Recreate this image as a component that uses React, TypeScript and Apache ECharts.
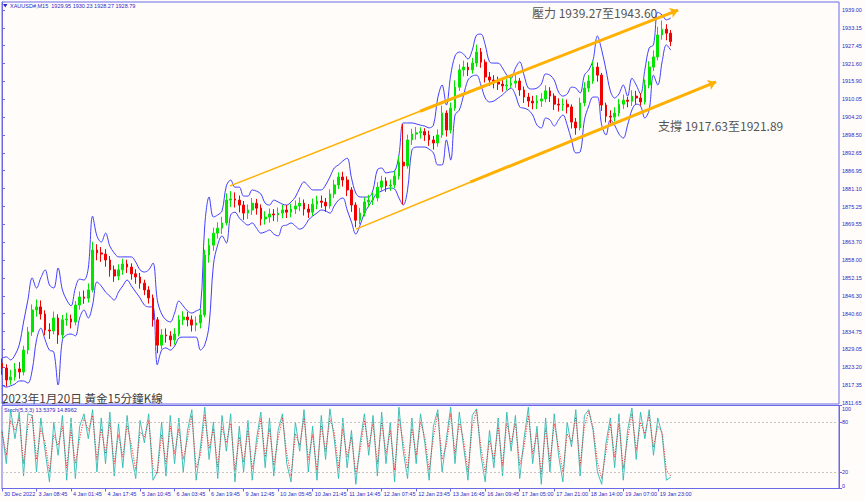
import React, { useEffect, useRef } from "react";
import * as echarts from "echarts";

// ---------- data ----------
const TIME_LABELS = [
  "30 Dec 2022", "3 Jan 08:45", "4 Jan 01:45", "4 Jan 17:45", "5 Jan 10:45",
  "6 Jan 03:45", "6 Jan 19:45", "9 Jan 12:45", "10 Jan 05:45", "10 Jan 21:45",
  "11 Jan 14:45", "12 Jan 07:45", "12 Jan 23:45", "13 Jan 16:45", "16 Jan 09:45",
  "17 Jan 05:00", "17 Jan 21:00", "18 Jan 14:00", "19 Jan 07:00", "19 Jan 23:00",
];
const SLOTS_PER_LABEL = 8;
const TOTAL_SLOTS = 195;

// [open, close, low, high]
const CANDLES: number[][] = [
  [1824.5, 1823.0, 1820.8, 1826.0], [1823.0, 1819.1, 1817.0, 1824.2], [1819.1, 1820.1, 1817.6, 1822.4], [1820.1, 1822.7, 1818.9, 1824.6],
  [1822.7, 1821.7, 1819.5, 1824.9], [1821.7, 1828.8, 1820.6, 1830.2], [1828.8, 1834.7, 1827.5, 1836.3], [1834.7, 1841.8, 1833.4, 1843.6],
  [1841.8, 1842.8, 1839.6, 1845.2], [1842.8, 1840.5, 1838.7, 1844.9], [1840.5, 1835.3, 1833.6, 1841.7], [1835.3, 1835.0, 1832.4, 1837.5],
  [1835.0, 1839.2, 1833.9, 1841.3], [1839.2, 1833.7, 1830.8, 1840.4], [1833.7, 1838.6, 1832.5, 1840.2], [1838.6, 1838.9, 1836.7, 1840.9],
  [1838.9, 1837.9, 1835.8, 1840.3], [1837.9, 1843.4, 1836.8, 1844.7], [1843.4, 1846.0, 1841.9, 1847.8], [1846.0, 1845.6, 1843.8, 1848.1],
  [1845.6, 1848.3, 1844.2, 1850.4], [1848.3, 1861.2, 1847.5, 1863.9], [1861.2, 1860.3, 1857.9, 1863.1], [1860.3, 1859.9, 1857.4, 1862.2],
  [1859.9, 1858.0, 1855.8, 1861.5], [1858.0, 1854.8, 1852.6, 1859.3], [1854.8, 1852.8, 1850.9, 1856.2], [1852.8, 1854.8, 1851.4, 1856.6],
  [1854.8, 1856.7, 1853.2, 1858.4], [1856.7, 1855.7, 1853.8, 1858.1], [1855.7, 1853.5, 1851.6, 1856.9], [1853.5, 1852.5, 1850.3, 1855.0],
  [1852.5, 1850.5, 1848.7, 1853.8], [1850.5, 1848.3, 1846.6, 1851.6], [1848.3, 1845.7, 1843.9, 1849.5], [1845.7, 1838.6, 1836.4, 1846.8],
  [1838.6, 1830.4, 1827.8, 1839.5], [1830.4, 1833.7, 1829.1, 1835.6], [1833.7, 1833.4, 1831.2, 1835.8], [1833.4, 1832.1, 1830.0, 1834.9],
  [1832.1, 1834.0, 1830.6, 1835.9], [1834.0, 1838.6, 1833.2, 1840.1], [1838.6, 1839.5, 1836.9, 1841.4], [1839.5, 1838.6, 1836.5, 1841.2],
  [1838.6, 1836.9, 1834.8, 1840.0], [1836.9, 1837.6, 1834.9, 1839.7], [1837.6, 1840.2, 1835.8, 1842.1], [1840.2, 1859.6, 1839.4, 1861.3],
  [1859.6, 1862.8, 1857.1, 1865.0], [1862.8, 1866.7, 1861.0, 1868.5], [1866.7, 1868.3, 1864.9, 1870.2], [1868.3, 1870.0, 1866.4, 1872.0],
  [1870.0, 1877.4, 1869.2, 1879.6], [1877.4, 1877.8, 1875.1, 1880.3], [1877.8, 1877.4, 1875.0, 1879.9], [1877.4, 1875.8, 1873.4, 1878.9],
  [1875.8, 1873.2, 1871.0, 1877.1], [1873.2, 1874.2, 1871.3, 1876.0], [1874.2, 1876.4, 1872.6, 1878.1], [1876.4, 1874.8, 1872.7, 1877.8],
  [1874.8, 1871.3, 1869.2, 1876.0], [1871.3, 1871.9, 1869.5, 1873.8], [1871.9, 1872.9, 1870.1, 1874.7], [1872.9, 1872.6, 1870.6, 1874.5],
  [1872.6, 1873.2, 1870.4, 1875.0], [1873.2, 1874.2, 1871.5, 1875.9], [1874.2, 1873.5, 1871.6, 1875.8], [1873.5, 1874.5, 1871.8, 1876.2],
  [1874.5, 1875.5, 1872.9, 1877.3], [1875.5, 1876.4, 1873.8, 1878.3], [1876.4, 1874.5, 1872.4, 1877.6], [1874.5, 1873.5, 1871.6, 1876.1],
  [1873.5, 1876.1, 1872.3, 1877.9], [1876.1, 1877.1, 1874.4, 1878.8], [1877.1, 1876.7, 1874.9, 1878.9], [1876.7, 1875.5, 1873.6, 1878.1],
  [1875.5, 1879.4, 1874.6, 1880.9], [1879.4, 1882.3, 1878.1, 1884.0], [1882.3, 1884.9, 1881.0, 1886.4], [1884.9, 1883.9, 1881.8, 1886.6],
  [1883.9, 1880.7, 1878.7, 1885.1], [1880.7, 1875.8, 1873.6, 1881.6], [1875.8, 1870.9, 1868.6, 1876.7], [1870.9, 1873.2, 1869.6, 1874.9],
  [1873.2, 1876.8, 1872.1, 1878.3], [1876.8, 1877.4, 1875.1, 1879.1], [1877.4, 1878.1, 1875.8, 1879.9], [1878.1, 1881.6, 1877.0, 1883.2],
  [1881.6, 1883.6, 1880.2, 1885.3], [1883.6, 1882.0, 1880.1, 1884.8], [1882.0, 1882.3, 1880.4, 1884.1], [1882.3, 1885.2, 1881.3, 1886.9],
  [1885.2, 1889.7, 1884.1, 1891.6], [1889.7, 1888.5, 1876.0, 1902.0], [1888.5, 1896.9, 1887.6, 1898.6], [1896.9, 1898.8, 1895.3, 1900.5],
  [1898.8, 1899.2, 1897.0, 1901.1], [1899.2, 1899.6, 1897.3, 1901.0], [1899.6, 1898.5, 1896.6, 1900.7], [1898.5, 1896.9, 1895.0, 1899.9],
  [1896.9, 1895.9, 1893.8, 1898.2], [1895.9, 1898.5, 1894.7, 1900.3], [1898.5, 1905.6, 1897.6, 1908.0], [1905.6, 1900.1, 1898.0, 1906.5],
  [1900.1, 1907.2, 1899.0, 1909.0], [1907.2, 1914.0, 1906.3, 1916.2], [1914.0, 1919.6, 1912.8, 1921.4], [1919.6, 1920.5, 1917.5, 1922.6],
  [1920.5, 1919.6, 1917.6, 1922.0], [1919.6, 1921.8, 1918.4, 1923.5], [1921.8, 1925.4, 1920.6, 1927.8], [1925.4, 1922.1, 1920.3, 1926.7],
  [1922.1, 1917.3, 1915.5, 1923.0], [1917.3, 1916.3, 1914.4, 1918.9], [1916.3, 1915.7, 1913.6, 1917.9], [1915.7, 1915.0, 1913.1, 1917.4],
  [1915.0, 1914.4, 1912.5, 1916.8], [1914.4, 1914.7, 1913.0, 1916.6], [1914.7, 1915.3, 1913.8, 1917.2], [1915.3, 1916.0, 1913.8, 1917.9],
  [1916.0, 1913.1, 1911.2, 1917.0], [1913.1, 1910.8, 1908.9, 1914.2], [1910.8, 1909.5, 1907.6, 1912.1], [1909.5, 1908.9, 1906.8, 1911.2],
  [1908.9, 1909.5, 1906.9, 1911.4], [1909.5, 1910.2, 1907.6, 1912.1], [1910.2, 1912.8, 1909.1, 1914.6], [1912.8, 1911.1, 1909.2, 1914.0],
  [1911.1, 1908.5, 1906.6, 1912.0], [1908.5, 1908.2, 1906.1, 1910.4], [1908.2, 1908.5, 1906.3, 1910.3], [1908.5, 1907.6, 1905.5, 1910.0],
  [1907.6, 1902.7, 1900.6, 1908.4], [1902.7, 1900.8, 1898.6, 1904.0], [1900.8, 1908.9, 1900.0, 1910.6], [1908.9, 1913.7, 1907.8, 1915.6],
  [1913.7, 1916.0, 1912.4, 1917.9], [1916.0, 1920.5, 1915.1, 1922.5], [1920.5, 1917.9, 1915.8, 1922.0], [1917.9, 1908.2, 1906.3, 1918.6],
  [1908.2, 1904.6, 1902.6, 1909.0], [1904.6, 1904.3, 1902.2, 1906.5], [1904.3, 1905.6, 1902.8, 1907.5], [1905.6, 1908.5, 1904.5, 1910.2],
  [1908.5, 1909.8, 1906.9, 1911.6], [1909.8, 1909.4, 1907.5, 1910.9], [1909.4, 1911.1, 1907.9, 1913.0], [1911.1, 1910.5, 1908.6, 1912.8],
  [1910.5, 1909.2, 1908.0, 1912.0], [1909.2, 1914.7, 1908.4, 1916.5], [1914.7, 1920.5, 1913.6, 1922.4], [1920.5, 1923.8, 1919.2, 1925.9],
  [1923.8, 1930.9, 1922.7, 1933.6], [1930.9, 1932.8, 1929.4, 1935.6], [1932.8, 1931.5, 1929.2, 1934.4], [1931.5, 1928.8, 1927.3, 1932.5],
];

const UPPER_BAND = [
  1826.2, 1826.6, 1825.6, 1827.2, 1830.5, 1837.9, 1845.0, 1852.2, 1848.9, 1852.2,
  1854.8, 1849.9, 1848.9, 1855.4, 1848.3, 1845.0, 1843.1, 1848.9, 1851.8, 1851.5,
  1855.4, 1872.2, 1865.8, 1863.8, 1866.7, 1862.5, 1860.3, 1859.0, 1859.0, 1859.0,
  1859.0, 1857.3, 1854.8, 1854.1, 1854.8, 1857.0, 1845.0, 1840.5, 1838.6, 1837.9,
  1840.8, 1844.7, 1843.1, 1841.5, 1840.8, 1841.5, 1842.4, 1869.3, 1878.4, 1871.9,
  1872.6, 1873.9, 1882.0, 1883.9, 1881.6, 1881.6, 1878.7, 1878.7, 1880.7, 1880.3,
  1879.4, 1876.4, 1875.8, 1877.4, 1876.8, 1876.1, 1875.8, 1876.8, 1878.4, 1881.3,
  1883.3, 1882.0, 1880.7, 1880.7, 1880.7, 1882.3, 1884.9, 1887.8, 1888.8, 1890.1,
  1891.0, 1884.6, 1879.7, 1878.4, 1878.4, 1878.4, 1880.7, 1887.2, 1887.8, 1886.2,
  1886.5, 1886.8, 1892.0, 1902.4, 1902.4, 1902.4, 1902.1, 1901.7, 1901.4, 1900.8,
  1901.7, 1910.5, 1914.7, 1908.2, 1917.9, 1924.1, 1925.4, 1924.7, 1923.1, 1926.0,
  1930.9, 1931.2, 1927.7, 1922.2, 1921.8, 1921.8, 1920.2, 1917.9, 1916.9, 1920.2,
  1922.2, 1917.9, 1913.7, 1913.4, 1913.7, 1915.0, 1918.3, 1917.9, 1916.3, 1912.4,
  1911.1, 1911.8, 1914.0, 1913.7, 1912.1, 1917.9, 1919.6, 1922.8, 1930.6, 1926.0,
  1919.6, 1912.8, 1910.5, 1911.8, 1914.7, 1911.1, 1916.9, 1914.7, 1911.8, 1919.6,
  1926.7, 1927.7, 1938.3, 1937.4, 1935.8, 1936.4,
];

const LOWER_BAND = [
  1817.5, 1816.8, 1817.2, 1817.8, 1818.8, 1818.8, 1818.1, 1822.3, 1832.1, 1835.9,
  1832.1, 1828.8, 1828.2, 1817.5, 1832.1, 1833.7, 1834.0, 1833.4, 1839.2, 1841.8,
  1839.2, 1843.4, 1850.9, 1849.6, 1847.6, 1846.3, 1845.0, 1847.6, 1849.6, 1851.5,
  1849.6, 1847.6, 1845.7, 1843.4, 1842.8, 1842.8, 1824.0, 1828.8, 1829.5, 1828.8,
  1830.1, 1832.7, 1833.0, 1833.0, 1833.0, 1833.0, 1828.8, 1830.5, 1836.9, 1856.4,
  1862.9, 1865.8, 1863.5, 1872.6, 1873.5, 1871.6, 1870.3, 1869.3, 1870.0, 1868.3,
  1866.7, 1867.1, 1867.7, 1866.4, 1865.8, 1869.0, 1869.3, 1870.0, 1869.0, 1868.0,
  1868.7, 1870.9, 1872.2, 1873.2, 1874.2, 1873.9, 1873.2, 1875.5, 1877.4, 1878.1,
  1874.2, 1870.3, 1866.4, 1869.3, 1873.2, 1875.5, 1877.8, 1879.7, 1880.3, 1881.0,
  1881.3, 1881.0, 1878.1, 1875.8, 1880.7, 1893.6, 1894.6, 1894.6, 1894.6, 1893.9,
  1892.7, 1888.8, 1888.8, 1896.9, 1890.4, 1905.0, 1906.6, 1911.5, 1916.3, 1917.6,
  1917.9, 1914.7, 1910.5, 1909.2, 1909.5, 1910.5, 1911.5, 1912.8, 1913.7, 1911.5,
  1907.6, 1907.2, 1906.6, 1905.0, 1901.7, 1900.8, 1904.0, 1903.4, 1901.4, 1903.4,
  1905.0, 1901.7, 1896.9, 1892.7, 1893.0, 1903.4, 1907.9, 1910.8, 1910.8, 1901.7,
  1898.5, 1903.4, 1901.7, 1898.8, 1897.5, 1901.7, 1906.6, 1908.5, 1907.9, 1904.0,
  1906.6, 1917.9, 1914.7, 1922.2, 1927.7, 1926.0,
];

const STOCH_K = [
  70, 30, 95, 60, 92, 15, 90, 88, 20, 85,
  45, 8, 80, 40, 88, 10, 85, 12, 75, 90,
  60, 95, 20, 85, 30, 92, 15, 78, 25, 88,
  40, 12, 82, 55, 90, 10, 20, 80, 15, 88,
  30, 85, 20, 70, 95, 10, 50, 98, 35, 80,
  12, 88, 45, 90, 8, 75, 20, 82, 10, 60,
  92, 25, 85, 15, 70, 90, 30, 8, 80, 45,
  95, 20, 75, 10, 88, 35, 96, 60, 12, 85,
  25, 70, 5, 55, 90, 40, 88, 15, 92, 30,
  80, 8, 98, 45, 12, 85, 30, 90, 55, 10,
  75, 95, 20, 60, 98, 30, 92, 50, 10, 88,
  96, 40, 8, 70, 25, 85, 15, 92, 45, 88,
  12, 60, 98, 30, 75, 5, 85, 20, 90, 40,
  8, 80, 50, 95, 15, 88, 95, 70, 20, 5,
  55, 85, 25, 90, 10, 70, 97, 35, 92, 60,
  95, 40, 85, 65, 10, 13.54,
];

const STOCH_D = [
  68, 40, 82, 70, 85, 30, 75, 88, 35, 72,
  55, 20, 65, 52, 75, 25, 70, 30, 60, 85,
  70, 88, 35, 72, 42, 80, 30, 65, 38, 76,
  52, 22, 68, 62, 82, 25, 18, 65, 30, 75,
  42, 72, 35, 60, 88, 25, 40, 88, 48, 72,
  26, 74, 55, 80, 22, 62, 32, 70, 24, 50,
  84, 38, 72, 28, 60, 85, 42, 15, 66, 52,
  85, 35, 65, 22, 76, 45, 84, 68, 25, 72,
  38, 62, 18, 46, 82, 50, 78, 30, 80, 42,
  70, 22, 84, 55, 24, 72, 40, 80, 62, 22,
  62, 90, 35, 52, 90, 42, 80, 58, 20, 75,
  94, 50, 20, 58, 35, 74, 28, 80, 54, 80,
  28, 50, 88, 42, 66, 18, 72, 32, 78, 50,
  20, 66, 56, 86, 28, 75, 93, 74, 32, 12,
  45, 78, 38, 78, 24, 60, 90, 46, 80, 66,
  88, 50, 75, 68, 22, 14.9,
];

const PRICE_TICKS = [
  1939.0, 1933.15, 1927.45, 1921.6, 1915.9, 1910.05, 1904.2, 1898.5, 1892.65, 1886.95,
  1881.1, 1875.25, 1869.55, 1863.7, 1858.0, 1852.15, 1846.3, 1840.6, 1834.75, 1829.05,
  1823.2, 1817.35, 1811.65,
];
const STOCH_TICKS = [0, 20, 80, 100];
const STOCH_LEVELS = [80, 20];

const SYMBOL = "XAUUSD#,M15";
const LAST_BAR = { open: 1929.95, high: 1930.23, low: 1928.27, close: 1928.79 };
const STOCH_NAME = "Stoch(5,3,3)";
const STOCH_LAST = { k: "13.5379", d: "14.8962" };

const TITLE_TEXT = "2023年1月20日 黃金15分鐘K線";
const RESISTANCE_TEXT = "壓力 1939.27至1943.60";
const SUPPORT_TEXT = "支撐 1917.63至1921.89";

// trend lines: [slot index, price]
const RESISTANCE_LINE = [[52.85, 1882.0], [96.9, 1906.2], [156.7, 1939.0]];
const SUPPORT_LINE = [[82.06, 1868.0], [108.5, 1883.2], [165.5, 1915.7]];

// ---------- styles ----------
const BG = "#fffcfa";
const FRAME = "#6a6ae8";
const AXIS_TEXT = "#2a2ac8";
const BULL = "#00e600";
const BEAR = "#f00000";
const BAND = "#4040ff";
const TREND = "#ffb000";
const NOTE = "#555555";
const SMALL_FONT = "Liberation Sans";
const CJK_FONT = "Noto Sans CJK TC";

const CATEGORIES: string[] = Array.from({ length: TOTAL_SLOTS }, (_, i) =>
  i % SLOTS_PER_LABEL === 0 && i / SLOTS_PER_LABEL < TIME_LABELS.length
    ? TIME_LABELS[i / SLOTS_PER_LABEL]
    : ""
);

export default function App() {
  const ref = useRef<HTMLDivElement>(null);

  useEffect(() => {
    if (!ref.current) return;
    const chart = echarts.init(ref.current, null, { renderer: "svg" });

    const gridLeft = 2;
    const gridWidth = 837;

    const option: any = {
      animation: false,
      backgroundColor: BG,
      grid: [
        { left: gridLeft, top: 2, width: gridWidth, height: 402, show: true, borderColor: FRAME, borderWidth: 1, backgroundColor: "transparent" },
        { left: gridLeft, top: 405.5, width: gridWidth, height: 83, show: true, borderColor: FRAME, borderWidth: 1, backgroundColor: "transparent" },
      ],
      xAxis: [
        {
          type: "category", gridIndex: 0, data: CATEGORIES, boundaryGap: false, show: false,
        },
        {
          type: "category", gridIndex: 1, data: CATEGORIES, boundaryGap: false,
          axisLine: { show: true, lineStyle: { color: FRAME, width: 1 } },
          axisTick: { show: true, length: 3, interval: (_i: number, v: string) => v !== "", lineStyle: { color: FRAME } },
          axisLabel: {
            show: true, interval: 0, align: "left", margin: 2, padding: [0, 0, 0, 2],
            color: AXIS_TEXT, fontSize: 5.5, fontFamily: SMALL_FONT,
          },
          splitLine: { show: false },
        },
        { type: "value", gridIndex: 0, min: 0, max: TOTAL_SLOTS - 1, show: false },
      ],
      yAxis: [
        {
          type: "value", gridIndex: 0, position: "right", min: 1811.33, max: 1941.6, scale: true,
          axisLine: { show: true, lineStyle: { color: FRAME, width: 1 } },
          axisTick: { show: true, length: 3, customValues: PRICE_TICKS, lineStyle: { color: FRAME } },
          axisLabel: {
            show: true, customValues: PRICE_TICKS, margin: 3, color: AXIS_TEXT, fontSize: 5.5, fontFamily: SMALL_FONT,
            formatter: (v: number) => v.toFixed(2),
          },
          splitLine: { show: false },
        },
        {
          type: "value", gridIndex: 1, position: "right", min: 0, max: 100,
          axisLine: { show: true, lineStyle: { color: FRAME, width: 1 } },
          axisTick: { show: true, length: 3, customValues: STOCH_TICKS, lineStyle: { color: FRAME } },
          axisLabel: {
            show: true, customValues: STOCH_TICKS, margin: 3, color: AXIS_TEXT, fontSize: 5.5, fontFamily: SMALL_FONT,
            formatter: (v: number) => (v === 100 ? `{t|${v}}` : v === 0 ? `{b|${v}}` : `${v}`),
            rich: {
              t: { padding: [7, 0, 0, 0], color: AXIS_TEXT, fontSize: 5.5, fontFamily: SMALL_FONT },
              b: { padding: [0, 0, 6, 0], color: AXIS_TEXT, fontSize: 5.5, fontFamily: SMALL_FONT },
            },
          },
          splitLine: { show: false },
        },
      ],
      series: [
        {
          type: "line", name: "upper", xAxisIndex: 0, yAxisIndex: 0, data: UPPER_BAND,
          smooth: 0.35, symbol: "none", lineStyle: { color: BAND, width: 1 }, silent: true, z: 2,
        },
        {
          type: "line", name: "lower", xAxisIndex: 0, yAxisIndex: 0, data: LOWER_BAND,
          smooth: 0.35, symbol: "none", lineStyle: { color: BAND, width: 1 }, silent: true, z: 2,
        },
        {
          type: "candlestick", name: "XAUUSD", xAxisIndex: 0, yAxisIndex: 0, data: CANDLES,
          barWidth: 2.2, z: 3,
          itemStyle: { color: BULL, color0: BEAR, borderColor: BULL, borderColor0: BEAR, borderWidth: 1 },
          markLine: {
            silent: true, symbol: "none", animation: false,
            data: [{ yAxis: LAST_BAR.close }],
            lineStyle: { opacity: 0 },
            label: {
              show: true, position: "end", distance: 2,
              formatter: () => LAST_BAR.close.toFixed(2),
              backgroundColor: "#000080", color: "#ffffff", fontSize: 5.5, fontFamily: SMALL_FONT,
              padding: [1, 2, 1, 2],
            },
          },
        },
        {
          type: "lines", coordinateSystem: "cartesian2d", xAxisIndex: 2, yAxisIndex: 0, silent: true, z: 5,
          symbol: ["none", "none"],
          lineStyle: { color: TREND, width: 1.5, opacity: 1 },
          data: [
            { coords: [RESISTANCE_LINE[0], RESISTANCE_LINE[1]] },
            { coords: [SUPPORT_LINE[0], SUPPORT_LINE[1]] },
          ],
        },
        {
          type: "lines", coordinateSystem: "cartesian2d", xAxisIndex: 2, yAxisIndex: 0, silent: true, z: 5,
          symbol: ["none", "arrow"], symbolSize: 8,
          lineStyle: { color: TREND, width: 3, opacity: 1 },
          data: [
            { coords: [RESISTANCE_LINE[1], RESISTANCE_LINE[2]] },
            { coords: [SUPPORT_LINE[1], SUPPORT_LINE[2]] },
          ],
        },
        {
          type: "line", name: "K", xAxisIndex: 1, yAxisIndex: 1, data: STOCH_K,
          symbol: "none", lineStyle: { color: "#2cbab2", width: 0.9 }, silent: true,
          markLine: {
            silent: true, symbol: "none", animation: false,
            data: STOCH_LEVELS.map((v) => ({ yAxis: v })),
            lineStyle: { color: "#c4c4c4", type: [2, 2], width: 1 },
            label: { show: false },
          },
        },
        {
          type: "line", name: "D", xAxisIndex: 1, yAxisIndex: 1, data: STOCH_D,
          symbol: "none", lineStyle: { color: "#ff2020", width: 1, type: [1, 1.5] }, silent: true,
        },
      ],
      graphic: [
        { type: "polygon", shape: { points: [[3, 4], [7.5, 4], [5.25, 7.5]] }, style: { fill: AXIS_TEXT } },
        {
          type: "text", x: 10, y: 6,
          style: {
            text: `${SYMBOL}  ${LAST_BAR.open.toFixed(2)} ${LAST_BAR.high.toFixed(2)} ${LAST_BAR.low.toFixed(2)} ${LAST_BAR.close.toFixed(2)}`,
            fill: AXIS_TEXT, fontSize: 5.5, fontFamily: SMALL_FONT, verticalAlign: "middle",
          },
        },
        {
          type: "text", x: 4, y: 409.5,
          style: {
            text: `${STOCH_NAME} ${STOCH_LAST.k} ${STOCH_LAST.d}`,
            fill: AXIS_TEXT, fontSize: 5.5, fontFamily: SMALL_FONT, verticalAlign: "middle",
          },
        },
        {
          type: "text", x: 2, y: 397.5, z: 10,
          style: { text: TITLE_TEXT, fill: "#404040", fontSize: 11.6, fontFamily: CJK_FONT, verticalAlign: "middle" },
        },
        {
          type: "text", x: 532, y: 12, z: 10,
          style: { text: RESISTANCE_TEXT, fill: NOTE, fontSize: 12, fontFamily: CJK_FONT, verticalAlign: "middle" },
        },
        {
          type: "text", x: 658, y: 125, z: 10,
          style: { text: SUPPORT_TEXT, fill: NOTE, fontSize: 12, fontFamily: CJK_FONT, verticalAlign: "middle" },
        },
      ],
    };

    chart.setOption(option);
    return () => chart.dispose();
  }, []);

  return (
    <div
      ref={ref}
      style={{ position: "fixed", left: 0, top: 0, width: 865, height: 501, background: BG }}
    />
  );
}
